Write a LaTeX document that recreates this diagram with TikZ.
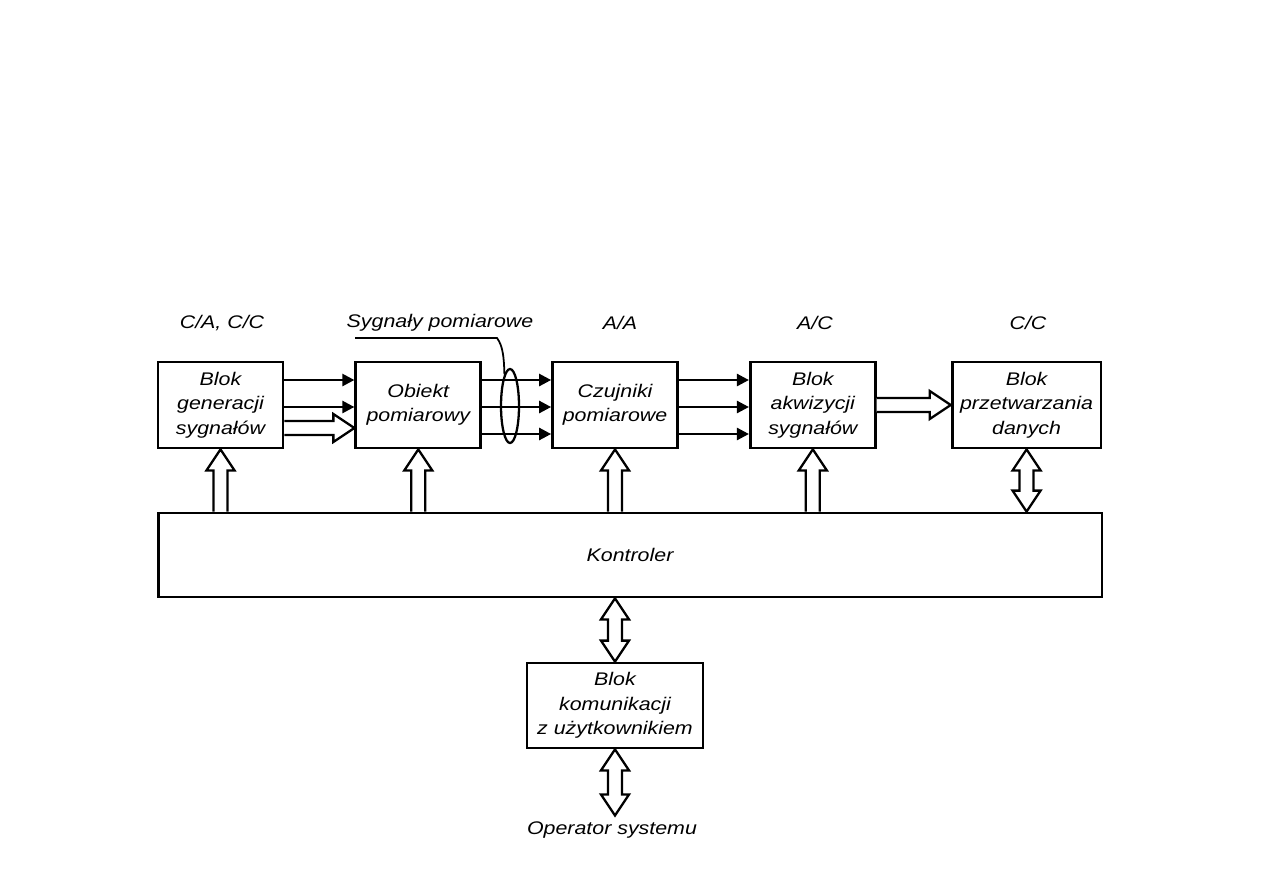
\documentclass[tikz,border=0pt]{standalone}
\usepackage{fontspec}
\setmainfont{Liberation Sans}[FakeStretch=1.17]
\usetikzlibrary{arrows.meta,positioning,calc,shapes.geometric}

\begin{document}
\begin{tikzpicture}[x=0.02cm, y=-0.02cm,
    font=\itshape\fontsize{10.4}{13.9}\selectfont,
    box/.style={draw, line width=1.6pt, inner sep=0pt, align=center,
      minimum width=2.5cm, minimum height=1.72cm},
    arrow/.style={-{Triangle[length=2.4mm, width=2.4mm]}, line width=1.4pt},
    hollow/.style={draw, line width=1.3pt, fill=white},
    % hollow block arrows drawn as outlines, tip at the target
    hup/.style={to path={($(\tikztostart)+(-7,0)$) -- ($(\tikztotarget)+(-7,21)$)
      -- ($(\tikztotarget)+(-14,21)$) -- (\tikztotarget) -- ($(\tikztotarget)+(14,21)$)
      -- ($(\tikztotarget)+(7,21)$) -- ($(\tikztostart)+(7,0)$)}},
    hright/.style={to path={($(\tikztostart)+(0,-7)$) -- ($(\tikztotarget)+(-21,-7)$)
      -- ($(\tikztotarget)+(-21,-14)$) -- (\tikztotarget) -- ($(\tikztotarget)+(-21,14)$)
      -- ($(\tikztotarget)+(-21,7)$) -- ($(\tikztostart)+(0,7)$)}},
    hboth/.style={to path={($(\tikztostart)+(-7,21)$) -- ($(\tikztostart)+(-14,21)$)
      -- (\tikztostart) -- ($(\tikztostart)+(14,21)$) -- ($(\tikztostart)+(7,21)$)
      -- ($(\tikztotarget)+(7,-21)$) -- ($(\tikztotarget)+(14,-21)$) -- (\tikztotarget)
      -- ($(\tikztotarget)+(-14,-21)$) -- ($(\tikztotarget)+(-7,-21)$) -- cycle}}
  ]
    \useasboundingbox (0,0) rectangle (1263,893);

    \node[box] (gen) at (220.5,405) {Blok\\generacji\\sygnałów};
    \node[box, right=1.40cm of gen] (obj) {Obiekt\\pomiarowy};
    \node[box, right=1.38cm of obj] (czu) {Czujniki\\pomiarowe};
    \node[box, right=1.40cm of czu] (akw) {Blok\\akwizycji\\sygnałów};
    \node[box, right=1.48cm of akw, minimum width=2.98cm] (prz)
      {Blok\\przetwarzania\\danych};
    \node[box, minimum width=18.88cm, minimum height=1.68cm] (kon) at (630,555)
      {Kontroler};
    \node[box, minimum width=3.52cm, minimum height=1.7cm] (kom) at (615,705.5)
      {Blok\\komunikacji\\z użytkownikiem};

    % conversion types above the blocks
    \node (gentype) at (222,323) {C/A, C/C};
    \node (sig) at (440,323) {Sygnały pomiarowe};
    \node (czutype) at (620,323) {A/A};
    \node (akwtype) at (815,323) {A/C};
    \node (prztype) at (1028,323) {C/C};
    \node (op) at (612,830) {Operator systemu};

    % signal paths
    \draw[arrow] ([yshift=0.5cm]gen.east) -- ([yshift=0.5cm]obj.west);
    \draw[arrow] ([yshift=-0.04cm]gen.east) -- ([yshift=-0.04cm]obj.west);
    \coordinate (g3) at ([yshift=-0.46cm]gen.east);
    \coordinate (o3) at ([yshift=-0.46cm]obj.west);
    \draw[hollow] (g3) to[hright] (o3);
    \foreach \dy in {0.5cm,-0.04cm,-0.58cm} {
      \draw[arrow] ([yshift=\dy]obj.east) -- ([yshift=\dy]czu.west);
      \draw[arrow] ([yshift=\dy]czu.east) -- ([yshift=\dy]akw.west);
    }
    \draw[hollow] (akw.east) to[hright] (prz.west);

    \node[draw, ellipse, line width=1.3pt, inner sep=0pt,
      minimum width=0.36cm, minimum height=1.48cm] (bundle) at (510,406) {};
    \coordinate (lead) at (355,338);
    \draw[line width=1pt] (lead) -- (497,338)
      .. controls (503,346) and (504,358) .. (bundle.100);

    % controller links
    \foreach \b in {gen,obj,czu,akw} {
      \coordinate (\b-k) at (\b.south |- kon.north);
      \draw[hollow] (\b-k) to[hup] (\b.south);
    }
    \coordinate (prz-k) at (prz.south |- kon.north);
    \draw[hollow] (prz.south) to[hboth] (prz-k);
    \coordinate (kom-k) at (kom.north |- kon.south);
    \draw[hollow] (kom-k) to[hboth] (kom.north);
    \coordinate (kom-op) at (kom.south |- op.north);
    \draw[hollow] (kom.south) to[hboth] (kom-op);
  \end{tikzpicture}
\end{document}
